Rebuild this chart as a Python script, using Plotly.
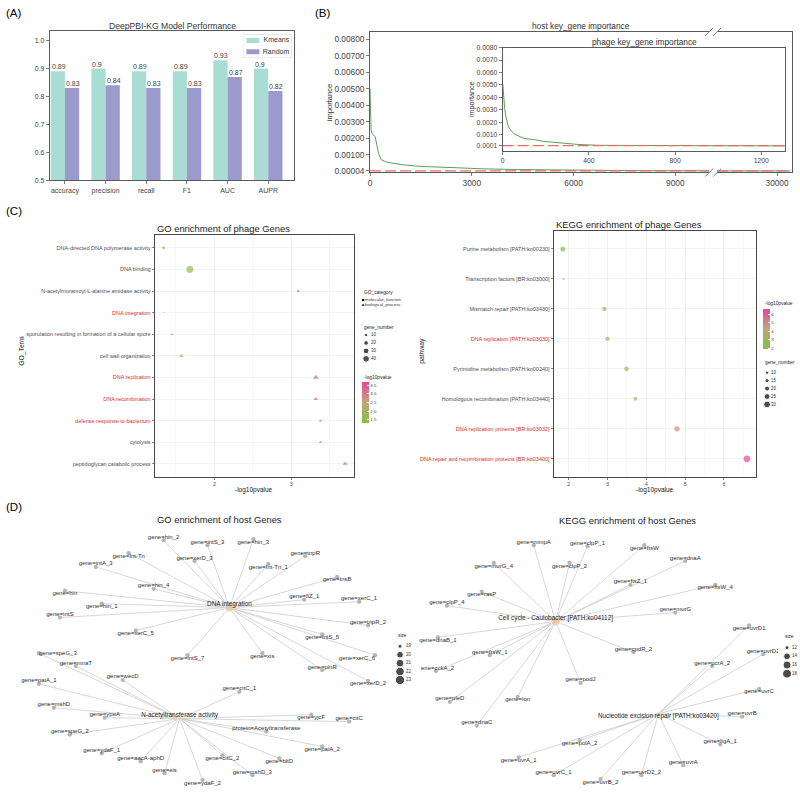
import numpy as np
import plotly.graph_objects as go

W, H = 800, 793
FONT = "Liberation Sans, Arial, Helvetica, sans-serif"
DARK = "#333333"
GRAY_TXT = "#4d4d4d"
RED_TXT = "#d7301f"


def fx(p):
    return p / W


def fy(p):
    return 1 - p / H


# ============================ DATA ============================
# (A) model performance
metrics = ["accuracy", "precision", "recall", "F1", "AUC", "AUPR"]
series_names = ["Kmeans", "Random"]
kmeans_scores = [0.89, 0.90, 0.89, 0.89, 0.93, 0.90]
random_scores = [0.83, 0.84, 0.83, 0.83, 0.87, 0.82]
score_ticks = [0.5, 0.6, 0.7, 0.8, 0.9, 1.0]

# (B) key-gene importance curves
host_rank = [0, 5, 15, 30, 60, 100, 150, 200, 250, 323, 450, 617, 912, 1402,
             2382, 3363, 4343, 6304, 8000, 10000, 20000, 30400]
host_importance = [0.0050, 0.0040, 0.0030, 0.0025, 0.0023, 0.0022, 0.0021, 0.0016,
                   0.0011, 0.00072, 0.0006, 0.00052, 0.00042, 0.00032, 0.00022,
                   0.00016, 0.00012, 0.00006, 0.00005, 0.000045, 0.00004, 0.000035]
host_threshold = 0.00004
host_ticks = [0.00004, 0.001, 0.002, 0.003, 0.004, 0.005, 0.006, 0.007, 0.008]
host_rank_ticks_left = [0, 3000, 6000, 9000]
host_rank_ticks_right = [30000]

phage_rank = [0, 2, 5, 9, 15, 20, 25, 35, 50, 66, 90, 112, 143, 190, 220, 297,
              350, 450, 600, 800, 1000, 1310]
phage_importance = [0.0051, 0.0045, 0.0036, 0.0031, 0.0024, 0.0021, 0.0017, 0.0014,
                    0.0011, 0.00094, 0.00075, 0.00065, 0.0006, 0.00045, 0.0004,
                    0.00025, 0.0002, 0.00013, 0.00011, 0.0001, 0.0001, 0.00009]
phage_threshold = 0.0001
phage_ticks = [0.0001, 0.001, 0.002, 0.003, 0.004, 0.005, 0.006, 0.007, 0.008]
phage_rank_ticks = [0, 400, 800, 1200]

# (C) GO enrichment of phage genes
go_terms = ["DNA-directed DNA polymerase activity", "DNA binding",
            "N-acetylmuramoyl-L-alanine amidase activity", "DNA integration",
            "sporulation resulting in formation of a cellular spore",
            "cell wall organization", "DNA replication", "DNA recombination",
            "defense response to bacterium", "cytolysis",
            "peptidoglycan catabolic process"]
go_log10p = [1.34, 1.68, 3.09, 1.34, 1.45, 1.57, 3.32, 3.32, 3.38, 3.38, 3.70]
go_gene_number = [7, 44, 6, 2, 6, 15, 27, 15, 8, 8, 15]
go_category = ["molecular_function", "molecular_function", "molecular_function",
               "biological_process", "biological_process", "biological_process",
               "biological_process", "biological_process", "biological_process",
               "biological_process", "biological_process"]
go_highlight = ["DNA integration", "DNA replication", "DNA recombination",
                "defense response to bacterium"]
go_category_levels = ["molecular_function", "biological_process"]
go_size_breaks = [10, 20, 30, 40]
go_color_ticks = [1.5, 2.0, 2.5, 3.0, 3.5]
go_x_ticks = [2, 3]

# (C) KEGG enrichment of phage genes
kegg_terms = ["Purine metabolism [PATH:ko00230]", "Transcription factors [BR:ko03000]",
              "Mismatch repair [PATH:ko03430]", "DNA replication [PATH:ko03030]",
              "Pyrimidine metabolism [PATH:ko00240]",
              "Homologous recombination [PATH:ko03440]",
              "DNA replication proteins [BR:ko03032]",
              "DNA repair and recombination proteins [BR:ko03400]"]
kegg_log10p = [1.85, 1.87, 2.92, 3.00, 3.49, 3.72, 4.79, 6.59]
kegg_gene_number = [20, 3, 16, 16, 18, 14, 22, 30]
kegg_highlight = ["DNA replication [PATH:ko03030]", "DNA replication proteins [BR:ko03032]",
                  "DNA repair and recombination proteins [BR:ko03400]"]
kegg_size_breaks = [10, 15, 20, 25, 30]
kegg_color_ticks = [2, 3, 4, 5, 6]
kegg_x_ticks = [2, 3, 4, 5, 6]

# (D) host gene networks: node layout coordinates
go_hubs = ["DNA integration", "N-acetyltransferase activity"]
go_hub_x = [228, 178]
go_hub_y = [609, 721]
go_hub_labelpos = ["t", "t"]

dna_int_genes = ["gene=hin_2", "gene=intS_3", "gene=hin_3", "gene=xerD_3", "gene=Int-Tn",
                 "gene=intA_3", "gene=tnpR", "gene=Int-Tn_1", "gene=tnsB", "gene=hin_4",
                 "gene=hin", "gene=fiZ_1", "gene=xerC_1", "gene=hin_1", "gene=intS",
                 "gene=tnpR_2", "gene=xerC_5", "gene=intS_5", "gene=intS_7", "gene=xis",
                 "gene=xerC_6", "gene=pinR", "gene=xerD_2"]
dna_int_x = [162, 206, 252, 193, 127, 94, 304, 267, 336, 152, 63, 303, 358, 100, 58,
             367, 134, 321, 186, 261, 374, 321, 367]
dna_int_y = [541, 546, 540, 562, 554, 568, 557, 565, 578, 590, 592, 601, 603, 605, 619,
             627, 632, 636, 657, 655, 657, 672, 683]
dna_int_labelpos = ["t", "t", "b", "t", "b", "t", "t", "b", "b", "t", "b", "t", "t", "b",
                    "t", "t", "b", "b", "b", "b", "bl", "t", "b"]

nat_genes = ["gene=speG_3", "gene=mnaT", "gene=wecD", "gene=paiA_1", "gene=citC_1",
             "gene=mshD", "gene=ypeA", "gene=yjcF", "gene=citC", "protein=Acetyltransferase",
             "gene=speG_2", "gene=paiA_2", "gene=ydaF_1", "gene=aacA-aphD", "gene=citC_2",
             "gene=bltD", "gene=eis", "gene=mshD_3", "gene=ydaF_2"]
nat_x = [37, 74, 121, 37, 238, 52, 103, 310, 348, 265, 68, 321, 100, 139, 221, 278, 163,
         251, 201]
nat_y = [655, 668, 682, 686, 694, 710, 720, 717, 724, 734, 737, 749, 756, 764, 758, 761,
         776, 778, 783]
nat_labelpos = ["r", "t", "t", "t", "t", "t", "t", "b", "t", "t", "t", "b", "t", "t", "b",
                "b", "t", "t", "b"]

kegg_hubs = ["Cell cycle - Caulobacter [PATH:ko04112]",
             "Nucleotide excision repair [PATH:ko03420]"]
kegg_hub_x = [555, 658]
kegg_hub_y = [623, 716]
kegg_hub_labelpos = ["t", "b"]

cc_genes = ["gene=mmpA", "gene=clpP_1", "gene=ftsW", "gene=dnaA", "gene=murG_4",
            "gene=clpP_2", "gene=ftsZ_1", "gene=ftsW_4", "gene=rasP", "gene=clpP_4",
            "gene=murG", "gene=dnaB_1", "gene=cpdR_2", "gene=ftsW_1", "gene=cckA_2",
            "gene=podJ", "gene=pleD", "gene=lon", "gene=dnaC"]
cc_x = [533, 587, 644, 685, 493, 569, 630, 715, 481, 446, 675, 437, 633, 489, 435, 580,
        449, 517, 476]
cc_y = [546, 547, 546, 562, 564, 564, 586, 586, 593, 607, 614, 639, 654, 657, 673, 685,
        704, 699, 728]
cc_labelpos = ["t", "t", "b", "t", "b", "b", "t", "b", "b", "t", "t", "b", "t", "t", "t",
               "t", "t", "b", "t"]

ner_genes = ["gene=uvrD1", "gene=uvrD2", "gene=pcrA_2", "gene=uvrC", "gene=uvrB",
             "gene=ligA_1", "gene=polA_2", "gene=uvrA_1", "gene=uvrA", "gene=uvrC_1",
             "gene=uvrD2_2", "gene=uvrB_2"]
ner_x = [749, 763, 712, 759, 742, 720, 579, 518, 683, 553, 641, 600]
ner_y = [627, 656, 668, 691, 719, 747, 743, 760, 768, 778, 778, 782]
ner_labelpos = ["b", "t", "t", "b", "t", "t", "b", "b", "t", "t", "t", "b"]

go_host_size_breaks = [19, 20, 21, 22, 23]
kegg_host_size_breaks = [12, 14, 16, 18]

# ============================ STYLE HELPERS ============================
POS = {"t": "top center", "b": "bottom center", "bl": "bottom left", "r": "middle right"}
ENRICH_CS = [[0.0, "#7fc241"], [0.5, "#c2a57e"], [1.0, "#e6479b"]]
BAR_COLORS = ["#a9ddd4", "#9c99cd"]


def go_size(n):
    return [1.05 * np.sqrt(v) for v in n]


def kegg_size(n):
    return [1.6 + 0.17 * v for v in n]


def hub_size(n, lo, hi):
    return [4 + 5.3 * np.sqrt(max(v - lo, 0) / (hi - lo)) for v in n]


def colored_ticks(terms, highlight):
    return [f"<span style='color:{RED_TXT}'>{t}</span>" if t in highlight else t for t in terms]


fig = go.Figure()
annotations = []
shapes = []


def ann(text, x, y, size, xanchor="center", yanchor="middle", color=DARK, angle=0):
    annotations.append(dict(text=text, x=fx(x), y=fy(y), xref="paper", yref="paper",
                            xanchor=xanchor, yanchor=yanchor, showarrow=False,
                            textangle=angle, font=dict(size=size, color=color, family=FONT)))


# ============================ (A) ============================
idx = list(range(len(metrics)))
for name, vals, col in zip(series_names, (kmeans_scores, random_scores), BAR_COLORS):
    fig.add_trace(go.Bar(x=idx, y=vals, name=name, marker=dict(color=col, line=dict(width=0)),
                         xaxis="x", yaxis="y", hoverinfo="skip", showlegend=False))
BAR_W = 0.35
for i, (k, r) in enumerate(zip(kmeans_scores, random_scores)):
    for xv, v in ((i - BAR_W, k), (i, r)):
        annotations.append(dict(x=xv, y=v, xref="x", yref="y", text=f"{v:g}", xanchor="left",
                                yanchor="bottom", showarrow=False, borderpad=0,
                                font=dict(size=7, color="#444", family=FONT)))
# hand-made legend box for (A)
shapes.append(dict(type="rect", xref="x14 domain", yref="y14 domain", x0=0, x1=1, y0=0, y1=1,
                   line=dict(color="#cccccc", width=0.8), fillcolor="white", layer="below"))
for j, (name, col) in enumerate(zip(series_names, BAR_COLORS)):
    fig.add_trace(go.Scatter(x=[3, 16], y=[j + 0.5, j + 0.5], mode="lines", line=dict(color=col, width=5),
                             xaxis="x14", yaxis="y14", showlegend=False, hoverinfo="skip"))
fig.add_trace(go.Scatter(x=[46] * len(series_names), y=[j + 0.5 for j in range(len(series_names))],
                         mode="text", text=series_names, textposition="middle left",
                         textfont=dict(size=7, color="#333"), xaxis="x14", yaxis="y14",
                         showlegend=False, hoverinfo="skip"))

# ============================ (B) ============================
B_LINE = "#5a9e5a"
B_DASH = "#e0706a"
for xa, ya in (("x2", "y2"), ("x3", "y3")):
    fig.add_trace(go.Scatter(x=host_rank, y=host_importance, mode="lines",
                             line=dict(color=B_LINE, width=1), xaxis=xa, yaxis=ya,
                             showlegend=False, hoverinfo="skip"))
    fig.add_trace(go.Scatter(x=[host_rank[0], host_rank[-1]], y=[host_threshold] * 2, mode="lines",
                             line=dict(color=B_DASH, width=1.2, dash="11px,4px"), xaxis=xa, yaxis=ya,
                             showlegend=False, hoverinfo="skip"))
fig.add_trace(go.Scatter(x=phage_rank, y=phage_importance, mode="lines",
                         line=dict(color=B_LINE, width=1), xaxis="x4", yaxis="y4",
                         showlegend=False, hoverinfo="skip"))
fig.add_trace(go.Scatter(x=[phage_rank[0], phage_rank[-1]], y=[phage_threshold] * 2, mode="lines",
                         line=dict(color=B_DASH, width=1.2, dash="11px,4px"), xaxis="x4", yaxis="y4",
                         showlegend=False, hoverinfo="skip"))

# break marks
for xb in (709, 717):
    for yb in (28, 170):
        shapes.append(dict(type="line", xref="paper", yref="paper", x0=fx(xb - 4), y0=fy(yb + 4),
                           x1=fx(xb + 4), y1=fy(yb - 4), line=dict(color="#5b7fbf", width=1)))

# ============================ (C) ============================
go_idx = list(range(len(go_terms)))
fig.add_trace(go.Scatter(
    x=go_log10p, y=go_idx, mode="markers", xaxis="x5", yaxis="y5", showlegend=False, hoverinfo="skip",
    marker=dict(size=go_size(go_gene_number), color=go_log10p, coloraxis="coloraxis",
                symbol=["circle" if c == "molecular_function" else "triangle-up" for c in go_category],
                line=dict(width=0))))
kegg_idx = list(range(len(kegg_terms)))
fig.add_trace(go.Scatter(
    x=kegg_log10p, y=kegg_idx, mode="markers", xaxis="x6", yaxis="y6", showlegend=False, hoverinfo="skip",
    marker=dict(size=kegg_size(kegg_gene_number), color=kegg_log10p, coloraxis="coloraxis2",
                line=dict(width=0))))

# legends for (C)
fig.add_trace(go.Scatter(x=[3] * len(go_category_levels), y=list(range(len(go_category_levels))),
                         mode="markers", xaxis="x7", yaxis="y7", showlegend=False, hoverinfo="skip",
                         marker=dict(size=2.6, color="black", symbol=["circle", "triangle-up"])))
fig.add_trace(go.Scatter(x=[5] * len(go_category_levels), y=list(range(len(go_category_levels))),
                         mode="text", text=go_category_levels, textposition="middle right",
                         textfont=dict(size=4.3, color=DARK), xaxis="x7", yaxis="y7",
                         showlegend=False, hoverinfo="skip"))
fig.add_trace(go.Scatter(x=[6] * len(go_size_breaks), y=list(range(len(go_size_breaks))),
                         mode="markers", xaxis="x8", yaxis="y8", showlegend=False, hoverinfo="skip",
                         marker=dict(size=go_size(go_size_breaks), color="black")))
fig.add_trace(go.Scatter(x=[11] * len(go_size_breaks), y=list(range(len(go_size_breaks))),
                         mode="text", text=[str(v) for v in go_size_breaks], textposition="middle right",
                         textfont=dict(size=4.5, color=DARK), xaxis="x8", yaxis="y8",
                         showlegend=False, hoverinfo="skip"))
fig.add_trace(go.Scatter(x=[7] * len(kegg_size_breaks), y=list(range(len(kegg_size_breaks))),
                         mode="markers", xaxis="x9", yaxis="y9", showlegend=False, hoverinfo="skip",
                         marker=dict(size=kegg_size(kegg_size_breaks), color="black")))
fig.add_trace(go.Scatter(x=[11] * len(kegg_size_breaks), y=list(range(len(kegg_size_breaks))),
                         mode="text", text=[str(v) for v in kegg_size_breaks], textposition="middle right",
                         textfont=dict(size=4.5, color=DARK), xaxis="x9", yaxis="y9",
                         showlegend=False, hoverinfo="skip"))

# ============================ (D) ============================


def add_network(hubs, hub_x, hub_y, hub_pos, clusters, xa, ya, lo, hi):
    ex, ey = [], []
    for (hx, hy), (names, xs, ys, pos) in zip(zip(hub_x, hub_y), clusters):
        for x, y in zip(xs, ys):
            ex += [hx, x, None]
            ey += [hy, y, None]
    fig.add_trace(go.Scatter(x=ex, y=ey, mode="lines", line=dict(color="#c6c6c6", width=0.7),
                             xaxis=xa, yaxis=ya, showlegend=False, hoverinfo="skip"))
    gx, gy, gt, gp = [], [], [], []
    for names, xs, ys, pos in clusters:
        gx += xs
        gy += ys
        gt += names
        gp += [POS[p] for p in pos]
    fig.add_trace(go.Scatter(x=gx, y=gy, mode="markers", marker=dict(size=4.3, color="#b5b5b5"),
                             xaxis=xa, yaxis=ya, showlegend=False, hoverinfo="skip"))
    fig.add_trace(go.Scatter(x=gx, y=gy, mode="text", text=gt, textposition=gp,
                             textfont=dict(size=6, color="#2b2b2b"), xaxis=xa, yaxis=ya,
                             showlegend=False, hoverinfo="skip"))
    counts = [len(c[0]) for c in clusters]
    fig.add_trace(go.Scatter(x=hub_x, y=hub_y, mode="markers",
                             marker=dict(size=hub_size(counts, lo, hi), color="#f4c491"),
                             xaxis=xa, yaxis=ya, showlegend=False, hoverinfo="skip"))
    fig.add_trace(go.Scatter(x=hub_x, y=hub_y, mode="text", text=hubs,
                             textposition=[POS[p] for p in hub_pos],
                             textfont=dict(size=6.4, color="#222"), xaxis=xa, yaxis=ya,
                             showlegend=False, hoverinfo="skip"))


add_network(go_hubs, go_hub_x, go_hub_y, go_hub_labelpos,
            [(dna_int_genes, dna_int_x, dna_int_y, dna_int_labelpos),
             (nat_genes, nat_x, nat_y, nat_labelpos)], "x10", "y10",
            go_host_size_breaks[0], go_host_size_breaks[-1])
add_network(kegg_hubs, kegg_hub_x, kegg_hub_y, kegg_hub_labelpos,
            [(cc_genes, cc_x, cc_y, cc_labelpos),
             (ner_genes, ner_x, ner_y, ner_labelpos)], "x11", "y11",
            kegg_host_size_breaks[0], len(cc_genes))

# size legends (D)
fig.add_trace(go.Scatter(x=[9] * len(go_host_size_breaks), y=list(range(len(go_host_size_breaks))),
                         mode="markers", xaxis="x12", yaxis="y12", showlegend=False, hoverinfo="skip",
                         marker=dict(size=hub_size(go_host_size_breaks, go_host_size_breaks[0],
                                                   go_host_size_breaks[-1]), color="black")))
fig.add_trace(go.Scatter(x=[15] * len(go_host_size_breaks), y=list(range(len(go_host_size_breaks))),
                         mode="text", text=[str(v) for v in go_host_size_breaks], textposition="middle right",
                         textfont=dict(size=4.5, color=DARK), xaxis="x12", yaxis="y12",
                         showlegend=False, hoverinfo="skip"))
fig.add_trace(go.Scatter(x=[9] * len(kegg_host_size_breaks), y=list(range(len(kegg_host_size_breaks))),
                         mode="markers", xaxis="x13", yaxis="y13", showlegend=False, hoverinfo="skip",
                         marker=dict(size=hub_size(kegg_host_size_breaks, kegg_host_size_breaks[0],
                                                   len(cc_genes)), color="black")))
fig.add_trace(go.Scatter(x=[14] * len(kegg_host_size_breaks), y=list(range(len(kegg_host_size_breaks))),
                         mode="text", text=[str(v) for v in kegg_host_size_breaks], textposition="middle right",
                         textfont=dict(size=4.5, color=DARK), xaxis="x13", yaxis="y13",
                         showlegend=False, hoverinfo="skip"))

# ============================ TEXT ============================
ann("(A)", 2, 9, 11.5, xanchor="left", color="black")
ann("(B)", 312, 9, 11.5, xanchor="left", color="black")
ann("(C)", 2, 209, 11.5, xanchor="left", color="black")
ann("(D)", 2, 507, 11.5, xanchor="left", color="black")

ann("DeepPBI-KG Model Performance", 170.5, 22, 8.6, color="#333")
ann("host key_gene importance", 580, 22, 8.3, color="#333")
ann("phage key_gene importance", 644, 38.5, 8.3, color="#333")
ann("importance", 328, 99, 7.6, color="#333", angle=-90)
ann("importance", 470, 96, 7.2, color="#333", angle=-90)

ann("GO enrichment of phage Genes", 153, 226, 9.4, xanchor="left", color="#222")
ann("KEGG enrichment of phage Genes", 553, 222, 9.4, xanchor="left", color="#222")
ann("-log10pvalue", 253, 490, 6.5, color="#222")
ann("-log10pvalue", 655, 490, 6.5, color="#222")
ann("GO_Term", 20, 350, 6.8, color="#222", angle=-90)
ann("pathway", 421, 350, 6.8, color="#222", angle=-90)
ann("GO_category", 361, 291, 4.8, xanchor="left", color="#222")
ann("gene_number", 361, 326, 4.8, xanchor="left", color="#222")
ann("-log10pvalue", 361, 376.5, 4.8, xanchor="left", color="#222")
ann("-log10pvalue", 763, 302.5, 4.8, xanchor="left", color="#222")
ann("gene_number", 763, 362, 4.8, xanchor="left", color="#222")

ann("GO enrichment of host Genes", 218, 520, 9.4, color="#222")
ann("KEGG enrichment of host Genes", 627, 521, 9.4, color="#222")
ann("size", 395, 637, 4.8, xanchor="left", color="#222")
ann("size", 783, 638, 4.8, xanchor="left", color="#222")

# ============================ AXES ============================
MPL_FRAME = "#5a5a5a"


def mpl_axis(**kw):
    d = dict(showline=True, linecolor=MPL_FRAME, linewidth=1, ticks="outside", ticklen=3,
             tickcolor=MPL_FRAME, tickwidth=0.8, showgrid=False, zeroline=False, fixedrange=True)
    d.update(kw)
    return d


def gg_axis(**kw):
    d = dict(showline=True, linecolor="#333333", linewidth=0.9, mirror=True, ticks="outside",
             ticklen=2, tickcolor="#333333", tickwidth=0.6, showgrid=True, gridcolor="#ebebeb",
             gridwidth=0.6, zeroline=False, fixedrange=True,
             tickfont=dict(size=5.5, color=GRAY_TXT))
    d.update(kw)
    return d


def hidden(domx, domy, rx, ry, anchor):
    return dict(domain=domx, range=rx, visible=False, anchor=anchor, fixedrange=True), \
        dict(domain=domy, range=ry, visible=False, anchor=anchor.replace("y", "x"), fixedrange=True)


layout = dict(
    width=W, height=H, margin=dict(l=0, r=0, t=0, b=0), autosize=False,
    paper_bgcolor="white", plot_bgcolor="white",
    font=dict(family=FONT, color=DARK),
    barmode="group", bargap=0.3, bargroupgap=0,
    showlegend=False,
    annotations=annotations, shapes=shapes,
    coloraxis=dict(colorscale=ENRICH_CS, cmin=min(go_log10p), cmax=max(go_log10p),
                   colorbar=dict(x=fx(361), xanchor="left", y=fy(381), yanchor="top",
                                 len=41 / H, lenmode="fraction", thickness=6.5, thicknessmode="pixels",
                                 xpad=0, ypad=0, outlinewidth=0, tickvals=go_color_ticks,
                                 ticktext=[f"{v:.1f}" for v in go_color_ticks], ticks="inside",
                                 ticklen=1.5, tickcolor="white", tickfont=dict(size=4.3, color=DARK))),
    coloraxis2=dict(colorscale=ENRICH_CS, cmin=min(kegg_log10p), cmax=max(kegg_log10p),
                    colorbar=dict(x=fx(763), xanchor="left", y=fy(308), yanchor="top",
                                  len=40 / H, lenmode="fraction", thickness=6.5, thicknessmode="pixels",
                                  xpad=0, ypad=0, outlinewidth=0, tickvals=kegg_color_ticks,
                                  ticktext=[str(v) for v in kegg_color_ticks], ticks="inside",
                                  ticklen=1.5, tickcolor="white", tickfont=dict(size=4.3, color=DARK))),
    # (A)
    xaxis=mpl_axis(domain=[fx(48), fx(293)], range=[-0.37, 5.64], tickvals=idx, ticktext=metrics,
                   mirror=True, anchor="y", tickfont=dict(size=7, color="#444")),
    yaxis=mpl_axis(domain=[fy(178), fy(27)], range=[0.5, 1.035], tickvals=score_ticks,
                   ticktext=[f"{v:.1f}" for v in score_ticks], mirror=True, anchor="x",
                   tickfont=dict(size=7, color="#444")),
    # (B) broken main axis
    xaxis2=mpl_axis(domain=[fx(369), fx(709)], range=[0, 10000], tickvals=host_rank_ticks_left,
                    ticktext=[str(v) for v in host_rank_ticks_left], mirror=True, anchor="y2",
                    tickfont=dict(size=8.3, color="#444")),
    yaxis2=mpl_axis(domain=[fy(170), fy(28)], range=[-0.00006, 0.00846], tickvals=host_ticks,
                    ticktext=[f"{v:.5f}" for v in host_ticks], anchor="x2",
                    tickfont=dict(size=8.3, color="#444")),
    xaxis3=mpl_axis(domain=[fx(717), fx(792)], range=[28240, 30440], tickvals=host_rank_ticks_right,
                    ticktext=[str(v) for v in host_rank_ticks_right], mirror=True, anchor="y3",
                    tickfont=dict(size=8.3, color="#444")),
    yaxis3=mpl_axis(domain=[fy(170), fy(28)], range=[-0.00006, 0.00846], side="right",
                    showticklabels=False, ticks="", anchor="x3"),
    # (B) inset
    xaxis4=mpl_axis(domain=[fx(502), fx(785)], range=[0, 1310], tickvals=phage_rank_ticks,
                    ticktext=[str(v) for v in phage_rank_ticks], mirror=True, anchor="y4",
                    tickfont=dict(size=6.8, color="#444")),
    yaxis4=mpl_axis(domain=[fy(148), fy(44)], range=[-0.0003, 0.008], tickvals=phage_ticks,
                    ticktext=[f"{v:.4f}" for v in phage_ticks], mirror=True, anchor="x4",
                    tickfont=dict(size=6.8, color="#444")),
    # (C) GO
    xaxis5=gg_axis(domain=[fx(153), fx(353)],
                   range=[min(go_log10p) - 0.05 * (max(go_log10p) - min(go_log10p)),
                          max(go_log10p) + 0.05 * (max(go_log10p) - min(go_log10p))],
                   tickvals=go_x_ticks, ticktext=[str(v) for v in go_x_ticks], anchor="y5",
                   minor=dict(dtick=0.5, tick0=0, showgrid=True, gridcolor="#f0f0f0", gridwidth=0.5,
                              ticks="")),
    yaxis5=gg_axis(domain=[fy(477), fy(233)], range=[len(go_terms) - 0.4, -0.6], tickvals=go_idx,
                   ticktext=colored_ticks(go_terms, go_highlight), anchor="x5"),
    # (C) KEGG
    xaxis6=gg_axis(domain=[fx(553), fx(756)],
                   range=[min(kegg_log10p) - 0.05 * (max(kegg_log10p) - min(kegg_log10p)),
                          max(kegg_log10p) + 0.05 * (max(kegg_log10p) - min(kegg_log10p))],
                   tickvals=kegg_x_ticks, ticktext=[str(v) for v in kegg_x_ticks], anchor="y6",
                   minor=dict(dtick=0.5, tick0=0, showgrid=True, gridcolor="#f0f0f0", gridwidth=0.5,
                              ticks="")),
    yaxis6=gg_axis(domain=[fy(477), fy(229)], range=[len(kegg_terms) - 0.4, -0.6], tickvals=kegg_idx,
                   ticktext=colored_ticks(kegg_terms, kegg_highlight), anchor="x6"),
)

for n, args in ((7, ([fx(359), fx(405)], [fy(306.2), fy(296.2)], [0, 46], [1.5, -0.5])),
                (8, ([fx(359), fx(400)], [fy(362), fy(330)], [0, 41], [3.5, -0.5])),
                (9, ([fx(760), fx(800)], [fy(408), fy(368)], [0, 40], [4.5, -0.5])),
                (10, ([0, fx(400)], [0, fy(505)], [0, 400], [793, 505])),
                (11, ([fx(400), 1], [0, fy(505)], [400, 800], [793, 505])),
                (12, ([fx(390), fx(420)], [fy(686.25), fy(643.75)], [0, 30], [4.5, -0.5])),
                (13, ([fx(778), fx(800)], [fy(680), fy(645)], [0, 22], [3.5, -0.5])),
                (14, ([fx(242), fx(290)], [fy(54), fy(31)], [0, 48], [2, 0]))):
    hx, hy = hidden(*args, f"y{n}")
    layout[f"xaxis{n}"], layout[f"yaxis{n}"] = hx, hy

fig.update_layout(**layout)
fig.write_html("out.html", config={"displayModeBar": False, "staticPlot": True},
               post_script="document.body.style.margin='0px';document.body.style.overflow='hidden';")
